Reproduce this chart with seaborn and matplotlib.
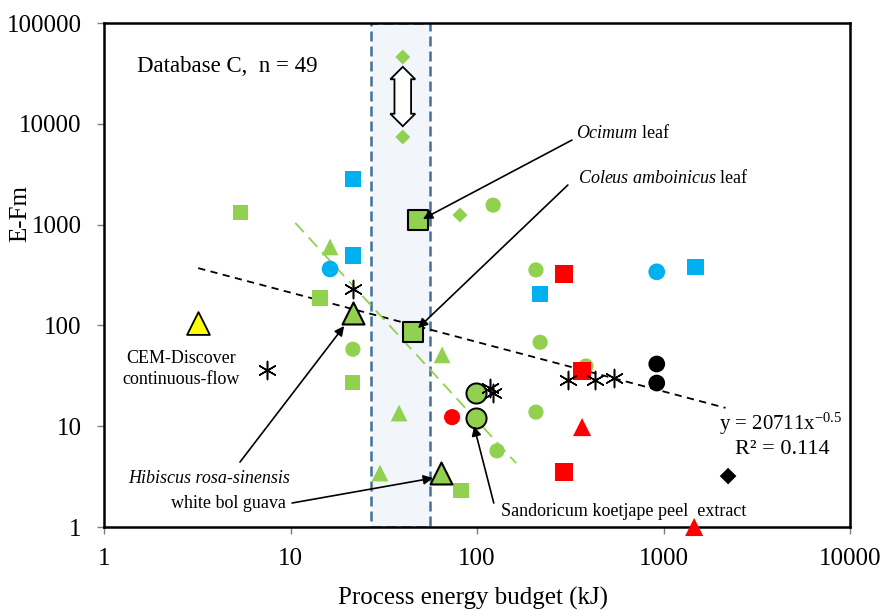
import matplotlib
matplotlib.use("Agg")
import matplotlib.pyplot as plt
import seaborn as sns
import pandas as pd
import numpy as np

# ---------------- data ----------------
green_sq_x = [5.4, 14.4, 21.6, 82]
green_sq_y = [1330, 187, 27, 2.3]
green_sq_big_x = [48, 45.5]
green_sq_big_y = [1110, 86]
blue_sq_x = [21.6, 21.6, 218, 1480]
blue_sq_y = [2830, 490, 205, 380]
blue_circ_x = [16.3, 920]
blue_circ_y = [363, 340]
green_circ_x = [122, 207, 21.6, 218, 384, 207, 128]
green_circ_y = [1560, 355, 58, 68, 39.5, 13.8, 5.7]
green_circ_big_x = [99, 99]
green_circ_big_y = [21.3, 12.1]
red_circ_x = [73.5]
red_circ_y = [12.3]
red_sq_x = [293, 366, 293]
red_sq_y = [324, 35.3, 3.5]
red_tri_x = [366, 1460]
red_tri_y = [9.8, 1.0]
black_circ_x = [920, 920]
black_circ_y = [41.4, 26.8]
black_dia_x = [2220]
black_dia_y = [3.2]
yellow_tri_x = [3.2]
yellow_tri_y = [106]
aster_x = [21.6, 7.5, 118, 122, 307, 429, 543]
aster_y = [230, 36, 24, 21.5, 29, 29, 30]
green_tri_x = [16.3, 65, 38.2, 30.2]
green_tri_y = [600, 51, 13.5, 3.43]
green_tri_big_x = [21.6, 64]
green_tri_big_y = [133, 3.43]
green_dia_x = [40, 40, 81]
green_dia_y = [46000, 7400, 1245]

trend_x = [3.2, 2150]
trend_y = [370, 15.2]
green_trend_x = [10.6, 162]
green_trend_y = [1040, 4.3]

band_x = [27, 56]

x_ticks = [1, 10, 100, 1000, 10000]
y_ticks = [1, 10, 100, 1000, 10000, 100000]

GREEN = "#92D050"
BLUE = "#00B0F0"
RED = "#FF0000"
YELLOW = "#FFFF00"

groups = [
    # name, xs, ys, marker, color, size, edgecolor, lw
    ("gsq", green_sq_x, green_sq_y, "s", GREEN, 120, "none", 0),
    ("bsq", blue_sq_x, blue_sq_y, "s", BLUE, 145, "none", 0),
    ("bci", blue_circ_x, blue_circ_y, "o", BLUE, 145, "none", 0),
    ("gci", green_circ_x, green_circ_y, "o", GREEN, 120, "none", 0),
    ("rci", red_circ_x, red_circ_y, "o", RED, 135, "none", 0),
    ("rsq", red_sq_x, red_sq_y, "s", RED, 160, "none", 0),
    ("rtr", red_tri_x, red_tri_y, "^", RED, 170, "none", 0),
    ("kci", black_circ_x, black_circ_y, "o", "black", 145, "none", 0),
    ("kdi", black_dia_x, black_dia_y, "D", "black", 72, "none", 0),
    ("ytr", yellow_tri_x, yellow_tri_y, "^", YELLOW, 270, "black", 1.3),
    ("gtr", green_tri_x, green_tri_y, "^", GREEN, 145, "none", 0),
    ("gdi", green_dia_x, green_dia_y, "D", GREEN, 58, "none", 0),
    ("gsqb", green_sq_big_x, green_sq_big_y, "s", GREEN, 200, "black", 1.5),
    ("gcib", green_circ_big_x, green_circ_big_y, "o", GREEN, 210, "black", 1.4),
    ("gtrb", green_tri_big_x, green_tri_big_y, "^", GREEN, 250, "black", 1.5),
]

plt.rcParams["font.family"] = ["Liberation Serif", "DejaVu Serif"]
plt.rcParams["mathtext.fontset"] = "custom"
plt.rcParams["mathtext.rm"] = "Liberation Serif"
plt.rcParams["mathtext.it"] = "Liberation Serif:italic"
plt.rcParams["axes.unicode_minus"] = False

fig = plt.figure(figsize=(8.82, 6.11), dpi=100)
ax = fig.add_axes([104 / 882, 1 - 527 / 611, 746 / 882, 504 / 611])
ax.set_xscale("log")
ax.set_yscale("log")
ax.set_xlim(1, 10000)
ax.set_ylim(1, 100000)

ax.axvspan(band_x[0], band_x[1], facecolor="#F2F5FA", edgecolor="#41719C",
           linestyle=(0, (4, 2)), linewidth=1.8, zorder=0)

sns.lineplot(x=trend_x, y=trend_y, ax=ax, color="black", linewidth=1.3,
             linestyle=(0, (4, 3)), zorder=1)
sns.lineplot(x=green_trend_x, y=green_trend_y, ax=ax, color=GREEN, linewidth=1.3,
             linestyle=(0, (7, 4)), zorder=1)

for name, xs, ys, mk, col, s, ec, lw in groups:
    df = pd.DataFrame({"x": xs, "y": ys})
    sns.scatterplot(data=df, x="x", y="y", marker=mk, color=col, s=s,
                    edgecolor=ec, linewidth=lw, ax=ax, legend=False,
                    zorder=3, clip_on=False)

df_a = pd.DataFrame({"x": aster_x, "y": aster_y})
sns.scatterplot(data=df_a, x="x", y="y", marker=(6, 2, 0), color="black",
                s=170, linewidth=1.1, ax=ax, legend=False, zorder=3)

# double hollow arrow
ax.text(40, 18400, " " * 14, rotation=90, ha="center", va="center", fontsize=8.3,
        bbox=dict(boxstyle="darrow,pad=0.2", fc="white", ec="black", lw=1.3), zorder=2)

ax.set_xticks(x_ticks)
ax.set_xticklabels([str(v) for v in x_ticks])
ax.set_yticks(y_ticks)
ax.set_yticklabels([str(v) for v in y_ticks])
ax.minorticks_off()
ax.tick_params(direction="out", length=5, width=1, color="#7F7F7F",
               labelsize=18)
ax.tick_params(axis="x", pad=10)
ax.tick_params(axis="y", pad=11)
for sp in ax.spines.values():
    sp.set_linewidth(1.8)
    sp.set_color("black")

ax.set_xlabel("Process energy budget (kJ)", fontsize=18)
ax.set_ylabel("E-Fm", fontsize=18)
ax.xaxis.set_label_coords(0.495, -0.118)
ax.yaxis.set_label_coords(-0.098, 0.623)

fs = 13
ax.text(1.5, 37400, "Database C,  n = 49", fontsize=16.5, va="center", ha="left")
ax.text(338, 8100, r"$\it{Ocimum}$ leaf", fontsize=fs, va="center", ha="left")
ax.text(348, 2900, r"$\it{Coleus\ amboinicus}$ leaf", fontsize=fs, va="center", ha="left")
ax.text(2.59, 36.9, "CEM-Discover\ncontinuous-flow", fontsize=13, va="center",
        ha="center", multialignment="center", linespacing=1.25)
ax.text(3.66, 3.06, "Hibiscus rosa-sinensis", fontsize=fs, style="italic",
        va="center", ha="center")
ax.text(4.62, 1.73, "white bol guava", fontsize=fs, va="center", ha="center")
ax.text(614, 1.41, "Sandoricum koetjape peel  extract", fontsize=fs,
        va="center", ha="center")
ax.text(4266, 10.5, r"y = 20711x$^{-0.5}$", fontsize=15, va="center", ha="center")
ax.text(4350, 5.94, "R² = 0.114", fontsize=16, va="center", ha="center")

arrows = [
    ((323, 6900), (51.3, 1137)),
    ((307, 2470), (48.3, 94)),
    ((5.36, 4.41), (19.4, 98.6)),
    ((10.2, 1.73), (58.1, 3.06)),
    ((123, 1.73), (96.4, 10.0)),
]
for tail, head in arrows:
    ax.annotate("", xy=head, xytext=tail,
                arrowprops=dict(arrowstyle="-|>", color="black", lw=1.2,
                                mutation_scale=14, shrinkA=0, shrinkB=0),
                zorder=4)

fig.savefig("out.png", dpi=100)
